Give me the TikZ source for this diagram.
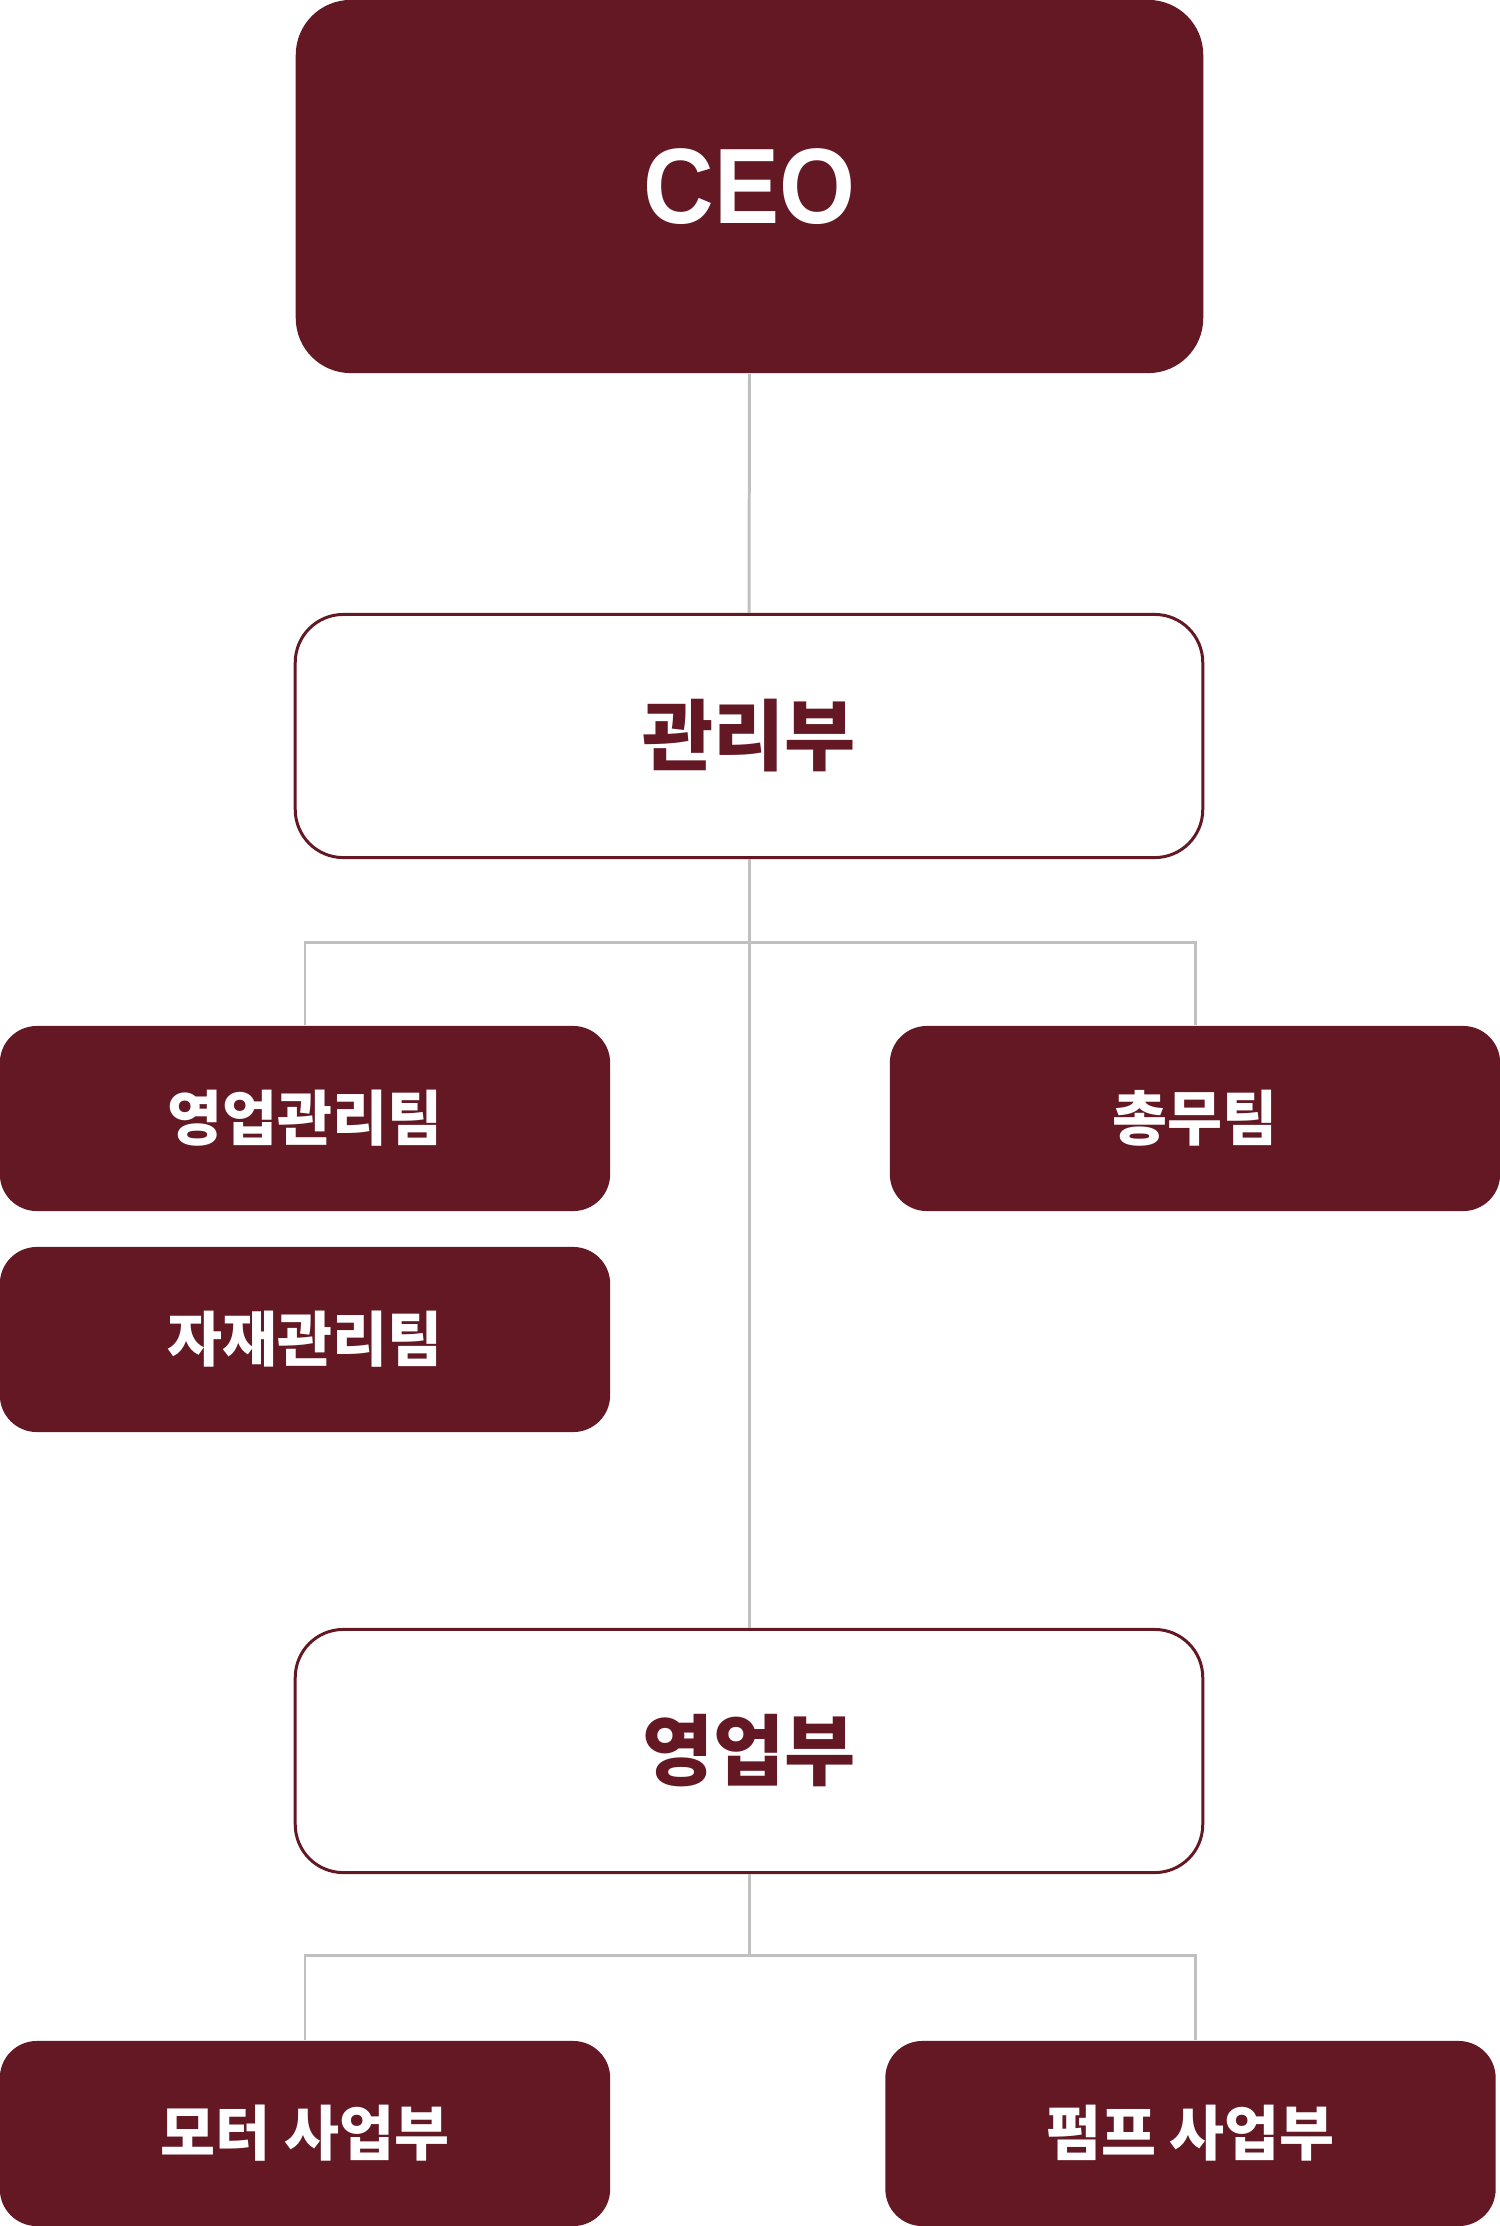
\documentclass[tikz,border=0pt]{standalone}
\usepackage{fontspec}
\setmainfont{Noto Sans CJK KR}
\newfontfamily\latinfont[FakeStretch=0.91]{Liberation Sans}
\usepackage{xcolor}
\definecolor{wine}{HTML}{641824}
\definecolor{linkgray}{HTML}{C0C0C0}
\usetikzlibrary{positioning}

\begin{document}
\begin{tikzpicture}[
  x={(0.01cm,0cm)},
  y={(0cm,-0.01cm)},
  link/.style={draw=linkgray,line width=0.85pt},
  topbox/.style={
    fill=wine,
    text=white,
    font=\latinfont\bfseries\fontsize{30.5}{36}\selectfont,
    minimum width=9.07cm,
    minimum height=3.73cm,
    inner sep=0pt,
    rounded corners=0.55cm
  },
  deptbox/.style={
    draw=wine,
    fill=white,
    text=wine,
    line width=0.85pt,
    font=\bfseries\fontsize{22}{26}\selectfont,
    minimum width=9.07cm,
    minimum height=2.43cm,
    inner sep=0pt,
    rounded corners=0.48cm
  },
  teambox/.style={
    fill=wine,
    text=white,
    font=\bfseries\fontsize{17}{20}\selectfont,
    minimum width=6.10cm,
    minimum height=1.85cm,
    inner sep=0pt,
    rounded corners=0.37cm
  }
]
\useasboundingbox (0,0) rectangle (1500,2226);

% Top of the chart
\node[topbox] (ceo) at (749.5,186.5) {CEO};

% Departments
\node[deptbox] (gwanri) at (749,736) {관리부};
\node[deptbox] (yeongeop) at (749,1751) {영업부};

% Teams under the admin department
\node[teambox] (salesadmin) at (305,1118.5) {영업관리팀};
\node[teambox] (general)    at (1195,1118.5) {총무팀};
\node[teambox] (material)   at (305,1339.5) {자재관리팀};

% Business units under sales
\node[teambox] (motor) at (305,2133.5) {모터 사업부};
\node[teambox] (pump)  at (1190.5,2133.5) {펌프 사업부};

% Branch points
\coordinate (busA) at (749,942);
\coordinate (busB) at (749,1955.5);

% Connectors
\draw[link] (ceo.south) -- (gwanri.north);
\draw[link] (gwanri.south) -- (yeongeop.north);
\draw[link] (busA) -| (salesadmin.north);
\draw[link] (busA) -| (general.north);

\draw[link] (yeongeop.south) -- (busB);
\draw[link] (busB) -| (motor.north);
\draw[link] (busB) -| (general.center |- pump.north);
\end{tikzpicture}
\end{document}
